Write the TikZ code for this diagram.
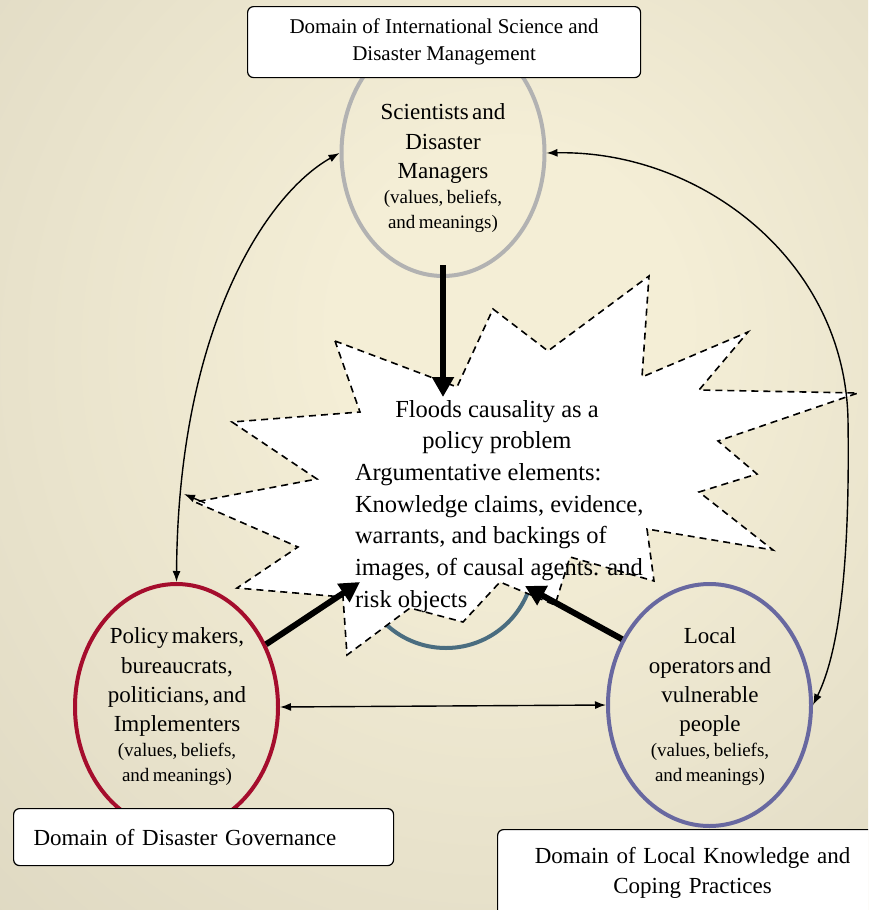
\documentclass[tikz,border=0pt]{standalone}
\usepackage{fontspec}
\setmainfont{Liberation Serif}
\usetikzlibrary{shapes.geometric,arrows.meta}
\definecolor{scigray}{RGB}{178,178,178}
\definecolor{polred}{RGB}{165,13,45}
\definecolor{locblue}{RGB}{104,104,160}
\definecolor{arcblue}{RGB}{74,109,128}
\definecolor{bgin}{RGB}{244,238,214}
\definecolor{bgout}{RGB}{196,190,170}
\pgfdeclareradialshading{bgshade}{\pgfpoint{5bp}{8bp}}{color(0bp)=(bgin); color(10bp)=(bgin); color(80bp)=(bgout)}

\begin{document}
\begin{tikzpicture}[x=1pt, y=-1pt,
  actor/.style={ellipse, draw, line width=4pt, minimum width=203pt, minimum height=246pt, outer sep=2pt},
  roletext/.style={text width=220pt, align=center, inner sep=0pt, outer sep=0pt, anchor=north},
  domainbox/.style={draw, fill=white, rounded corners=6pt, line width=1.2pt, anchor=north west},
  bursttext/.style={font=\fontsize{24.5}{31.7}\selectfont, align=left, inner sep=0pt, outer sep=0pt, anchor=north west},
  twoway/.style={line width=1.4pt, {Latex[length=11pt,width=8pt]}-{Latex[length=11pt,width=8pt]}},
  oneway/.style={line width=1.4pt, -{Latex[length=11pt,width=8pt]}},
  fatarrow/.style={line width=6pt, -{Triangle[length=20pt,width=21pt]}}]
  \useasboundingbox (0,0) rectangle (868,910);
  \clip (0,0) rectangle (868,910);
  \shade[shading=bgshade] (0,0) rectangle (868,910);

  % the problem in the middle
  \node[circle, draw=arcblue, line width=4pt, minimum size=176pt] (loop) at (446,560) {};
  \draw[fill=white, dashed, line width=1.6pt, dash pattern=on 7pt off 5pt]
    (335,341) -- (457,387) -- (493,309) -- (548,351) -- (649,276) -- (642,377) -- (748,332)
    -- (699,390) -- (858,393) -- (718,441) -- (757,474) -- (699,492) -- (773,550) -- (647,529)
    -- (654,581) -- (570,557) -- (555,605) -- (500,582) -- (463,622) -- (410,608) -- (347,655)
    -- (343,597) -- (237,588) -- (298,547) -- (195,502) -- (317,479) -- (232,422) -- (360,412) -- cycle;
  \node[bursttext] (issue) at (355,400) {\makebox[284pt]{Floods causality as a}\\\makebox[284pt]{policy problem}\\Argumentative elements:\\Knowledge claims, evidence,\\warrants, and backings of\\images, of causal agents. and\\risk objects};
  \coordinate (burstin) at (443,397);
  \coordinate (polhit) at (360,582);
  \coordinate (lochit) at (525,586);
  \coordinate (burstpk) at (205,503);
  \coordinate (burstend) at (184,494);

  % the three actors
  \node[actor, draw=scigray] (sci) at (443,153) {};
  \node[actor, draw=polred] (pol) at (176.5,707) {};
  \node[actor, draw=locblue, minimum height=242pt] (loc) at (709.5,705) {};
  \node[roletext] (scitext) at (443,104) {{\fontsize{23}{29.3}\selectfont Scientists and\\Disaster\\Managers\par}{\fontsize{19}{25}\selectfont (values, beliefs,\\and meanings)\par}};
  \node[roletext] (poltext) at (177,628) {{\fontsize{23}{29.3}\selectfont Policy makers,\\bureaucrats,\\politicians, and\\Implementers\par}{\fontsize{19}{25}\selectfont (values, beliefs,\\and meanings)\par}};
  \node[roletext] (loctext) at (710,628) {{\fontsize{23}{29.3}\selectfont Local\\operators and\\vulnerable\\people\par}{\fontsize{19}{25}\selectfont (values, beliefs,\\and meanings)\par}};

  % domains
  \node[domainbox, minimum width=393pt, minimum height=71pt, align=center, font=\fontsize{21}{27}\selectfont] (scidom) at (247,6) {Domain of International Science and\\Disaster Management};
  \node[domainbox, text width=340pt, inner xsep=20pt, inner ysep=10pt, minimum height=57pt, align=left, font=\fontsize{23}{29}\selectfont] (poldom) at (13,808) {Domain of Disaster Governance};
  \node[domainbox, text width=354pt, inner xsep=18pt, inner ysep=18pt, text depth=50pt, align=center, font=\fontsize{23}{30}\selectfont] (locdom) at (497,829) {Domain of Local Knowledge and\\Coping Practices};

  % links
  \draw[fatarrow] ([yshift=13pt]sci.south) -- (burstin);
  \draw[fatarrow] (pol.35) -- (polhit);
  \draw[fatarrow] (loc.143) -- (lochit);
  \draw[twoway] (pol.north) .. controls (178,330) and (265,195) .. (sci.west);
  \draw[twoway] (sci.east) .. controls (700,150) and (845,260) .. (848,420) .. controls (850,560) and (840,650) .. (loc.east);
  \draw[twoway] (pol.east) -- (loc.west);
  \draw[oneway] (burstpk) -- (burstend);
\end{tikzpicture}
\end{document}
